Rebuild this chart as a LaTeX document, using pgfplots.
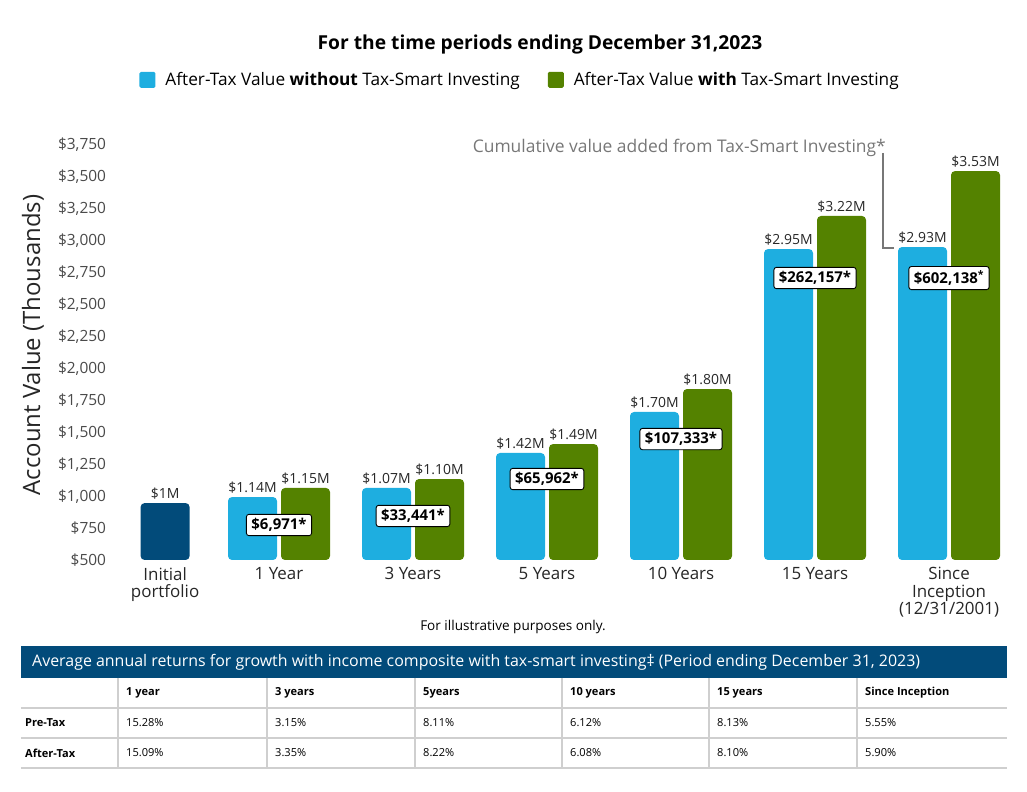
\documentclass[border=0pt]{standalone}
\usepackage{pgfplots}
\pgfplotsset{compat=1.18}
\usepackage{fontspec}
\setmainfont{Open Sans}

\definecolor{tsblue}{HTML}{1EAEE0}
\definecolor{tsgreen}{HTML}{548200}
\definecolor{tsnavy}{HTML}{024B7A}
\definecolor{tickgray}{HTML}{4A4A4A}
\definecolor{notegray}{HTML}{777777}
\definecolor{rulegray}{HTML}{CFCFCF}

\pgfplotsset{
  sqlegend/.style={legend image code/.code={\fill[##1, rounded corners=1.5bp] (0bp,-8bp) rectangle (16bp,8bp);}},
  tsbar/.style={ybar, bar width=49bp, draw=none, rounded corners=4bp,
    nodes near coords, point meta=explicit symbolic,
    every node near coord/.append style={font=\fontsize{14}{17}\selectfont, text=black!85}},
}

\begin{document}
\begin{tikzpicture}[x=1bp,y=1bp]
\begin{axis}[
  name=ax,
  scale only axis, width=891.1bp, height=415bp,
  xmin=-0.2, xmax=6.45, ymin=500, ymax=3750,
  clip=false,
  axis line style={draw=none},
  major tick length=0pt,
  ytick={500,750,...,3750},
  scaled y ticks=false,
  /pgf/number format/1000 sep={,},
  /pgf/number format/assume math mode=true,
  yticklabel={\$\pgfmathprintnumber{\tick}},
  yticklabel style={font=\fontsize{15.5}{18}\selectfont, text=tickgray, anchor=east, inner sep=0pt, xshift=-12bp},
  xtick={0.15,1,2,3,4,5,6},
  xticklabels={{Initial\\portfolio},{1 Year},{3 Years},{5 Years},{10 Years},{15 Years},{Since\\Inception\\(12/31/2001)}},
  xticklabel style={font=\fontsize{17}{17.5}\selectfont, text=black!85, align=center, anchor=north, inner sep=0pt, yshift=-7bp},
  ylabel={Account Value (Thousands)},
  every axis y label/.style={at={(axis description cs:-0.0956,0.518)}, rotate=90, anchor=center,
    font=\fontsize{24}{28}\selectfont, text=black!85},
  legend style={at={(axis description cs:0.451,1.157)}, anchor=center, draw=none, fill=none,
    legend columns=2, font=\fontsize{17.3}{20}\selectfont,
    /tikz/every even column/.append style={column sep=26bp}},
]
\addplot[tsbar, bar shift=0pt, fill=tsnavy, forget plot] coordinates {(0.15,946)[\$1M]};
\addplot[tsbar, bar shift=-26.5bp, fill=tsblue, sqlegend,
  every node near coord/.append style={xshift=-26.5bp}] coordinates {
  (1,993)[\$1.14M] (2,1064)[\$1.07M] (3,1338)[\$1.42M]
  (4,1659)[\$1.70M] (5,2935)[\$2.95M] (6,2951)[\$2.93M]};
\addplot[tsbar, bar shift=26.5bp, fill=tsgreen, sqlegend,
  every node near coord/.append style={xshift=26.5bp}] coordinates {
  (1,1064)[\$1.15M] (2,1134)[\$1.10M] (3,1408)[\$1.49M]
  (4,1839)[\$1.80M] (5,3194)[\$3.22M] (6,3546)[\$3.53M]};
\legend{\hspace*{8bp}After-Tax Value \textbf{without} Tax-Smart Investing, \hspace*{8bp}After-Tax Value \textbf{with} Tax-Smart Investing}
% value added boxes
\addplot[draw=none, mark=none, forget plot, nodes near coords, point meta=explicit symbolic,
  nodes near coords style={anchor=center, draw=black, fill=white, rounded corners=2.5bp,
    line width=0.9bp, inner xsep=5bp, inner ysep=4bp, font=\fontsize{15}{18}\selectfont\bfseries}]
  coordinates {(1,774)[\$6,971*] (2,845)[\$33,441*] (3,1134)[\$65,962*]
  (4,1447)[\$107,333*] (5,2708)[\$262,157*] (6,2708)[\$602,138\textsuperscript{*}]};
\end{axis}

% everything else in page pixels, measured from the page's bottom-left corner
\begin{scope}[shift={(ax.south west)}, xshift=-118.2bp, yshift=-232bp]
\path (0,0) rectangle (1027,792);

\node[font=\fontsize{19.3}{23}\selectfont\bfseries] at (540,747) {For the time periods ending December 31,2023};

% callout
\draw[notegray, line width=1.5bp] (883,639) -- (883,544) -- (894,544);
\node[anchor=east, text=notegray, font=\fontsize{17.5}{20}\selectfont, inner sep=0pt] at (886,644) {Cumulative value added from Tax-Smart Investing*};

\node[font=\fontsize{13.6}{16}\selectfont] at (513,165) {For illustrative purposes only.};

% table
\fill[tsnavy] (21,114) rectangle (1007,146);
\node[anchor=west, text=white, font=\fontsize{16}{18}\selectfont, inner sep=0pt] at (32,130)
  {Average annual returns for growth with income composite with tax-smart investing‡ (Period ending December 31, 2023)};
\foreach \yy in {84,54,24} \draw[rulegray, line width=1.2bp] (21,\yy) -- (1007,\yy);
\foreach \xx in {118,267,415,562,709,857} \draw[rulegray, line width=1.2bp] (\xx,114) -- (\xx,24);
\foreach \xx/\tt in {118/1 year,267/3 years,415/5years,562/10 years,709/15 years,857/Since Inception}
  \node[anchor=west, font=\fontsize{11.1}{14}\selectfont\bfseries, inner sep=0pt] at (\xx+8,99) {\tt};
\node[anchor=west, font=\fontsize{11.1}{14}\selectfont\bfseries, inner sep=0pt] at (25,69) {Pre-Tax};
\node[anchor=west, font=\fontsize{11.1}{14}\selectfont\bfseries, inner sep=0pt] at (25,39) {After-Tax};
\foreach \xx/\tt in {118/15.28,267/3.15,415/8.11,562/6.12,709/8.13,857/5.55}
  \node[anchor=west, font=\fontsize{11.1}{14}\selectfont, inner sep=0pt] at (\xx+8,69) {\tt\%};
\foreach \xx/\tt in {118/15.09,267/3.35,415/8.22,562/6.08,709/8.10,857/5.90}
  \node[anchor=west, font=\fontsize{11.1}{14}\selectfont, inner sep=0pt] at (\xx+8,39) {\tt\%};
\end{scope}
\end{tikzpicture}
\end{document}
